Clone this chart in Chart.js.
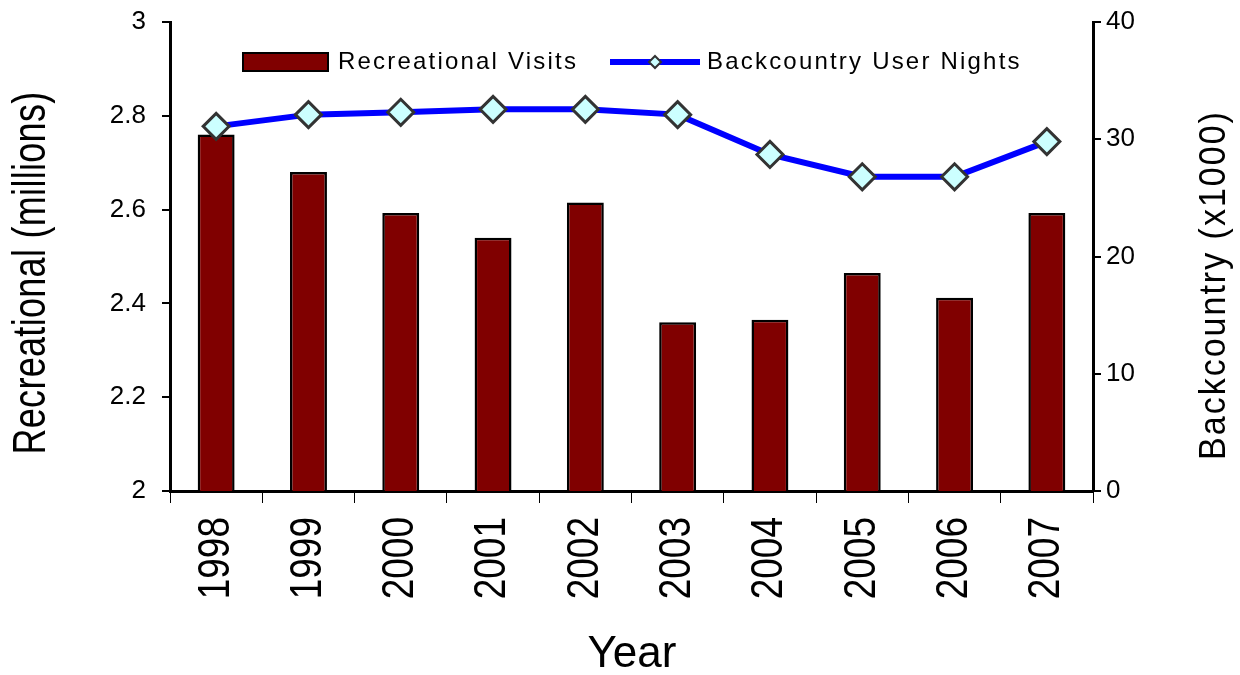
<!DOCTYPE html>
<html>
<head>
<meta charset="utf-8">
<script src="https://cdn.jsdelivr.net/npm/chart.js@4"></script>
<style>
  html, body { margin: 0; padding: 0; background: #fff; }
  #wrap { width: 1240px; height: 675px; }
</style>
</head>
<body>
<div id="wrap"><canvas id="chart" width="1240" height="675"></canvas></div>
<script>
// ── Data ──────────────────────────────────────────────────────
const years       = ['1998', '1999', '2000', '2001', '2002', '2003', '2004', '2005', '2006', '2007'];
const recVisits   = [2.76, 2.68, 2.593, 2.54, 2.615, 2.36, 2.365, 2.465, 2.412, 2.593];   // millions
const backcountry = [31.1, 32.1, 32.3, 32.55, 32.55, 32.1, 28.7, 26.8, 26.8, 29.8];       // x1000
const leftTicks   = [2, 2.2, 2.4, 2.6, 2.8, 3];
const rightTicks  = [0, 10, 20, 30, 40];

const FONT = "'Liberation Sans', Arial, sans-serif";

// ── Text helper: rotated, optionally stretched across the baseline ──
function drawText(ctx, text, x, y, opts) {
    ctx.save();
    ctx.translate(x, y);
    if (opts.rot) ctx.rotate(opts.rot);
    ctx.scale(1, opts.stretch || 1);
    ctx.font = opts.font;
    ctx.fillStyle = '#000';
    ctx.textAlign = opts.align || 'center';
    ctx.textBaseline = 'middle';
    ctx.letterSpacing = opts.spacing || '0px';
    ctx.fillText(text, 0, 0);
    ctx.restore();
}

// ── Legend, axis titles and year labels ───────────────────────
const decorations = {
    id: 'decorations',
    afterDraw(chart) {
        const ctx = chart.ctx;
        const xs = chart.scales.x;

        // year labels, reading bottom to top
        years.forEach((lab, i) => {
            drawText(ctx, lab, xs.getPixelForValue(i), 517, {
                rot: -Math.PI / 2, align: 'right', font: '37px ' + FONT, stretch: 1.22
            });
        });

        // axis titles
        drawText(ctx, 'Recreational (millions)', 32, 273, {
            rot: -Math.PI / 2, font: '36px ' + FONT, stretch: 1.3, spacing: '0.3px'
        });
        drawText(ctx, 'Backcountry (x1000)', 1215, 285, {
            rot: -Math.PI / 2, font: '34px ' + FONT, stretch: 1.07, spacing: '2px'
        });
        drawText(ctx, 'Year', 632, 655, { font: '44px ' + FONT });

        // legend
        const y = 62;
        ctx.save();
        ctx.fillStyle = '#800000';
        ctx.strokeStyle = '#000';
        ctx.lineWidth = 2;
        ctx.fillRect(243, 53, 85, 18);
        ctx.strokeRect(243, 53, 85, 18);
        ctx.strokeStyle = '#0000ff';
        ctx.lineWidth = 6;
        ctx.beginPath();
        ctx.moveTo(610, y);
        ctx.lineTo(700, y);
        ctx.stroke();
        ctx.fillStyle = '#ccffff';
        ctx.strokeStyle = '#333';
        ctx.lineWidth = 2;
        ctx.beginPath();
        ctx.moveTo(655, y - 6);
        ctx.lineTo(661, y);
        ctx.lineTo(655, y + 6);
        ctx.lineTo(649, y);
        ctx.closePath();
        ctx.fill();
        ctx.stroke();
        ctx.restore();
        drawText(ctx, 'Recreational Visits', 338, y, { align: 'left', font: '24px ' + FONT, spacing: '2.2px' });
        drawText(ctx, 'Backcountry User Nights', 707, y, { align: 'left', font: '24px ' + FONT, spacing: '2.2px' });
    }
};

new Chart(document.getElementById('chart').getContext('2d'), {
    data: {
        labels: years,
        datasets: [
            {
                type: 'line',
                label: 'Backcountry User Nights',
                data: backcountry,
                yAxisID: 'y2',
                borderColor: '#0000ff',
                borderWidth: 6,
                pointStyle: 'rectRot',
                pointRadius: 13,
                pointHoverRadius: 13,
                pointBackgroundColor: '#ccffff',
                pointBorderColor: '#333333',
                pointBorderWidth: 3,
                tension: 0,
                order: 0
            },
            {
                type: 'bar',
                label: 'Recreational Visits',
                data: recVisits,
                yAxisID: 'y',
                backgroundColor: '#800000',
                borderColor: '#000',
                borderWidth: 2.5,
                borderSkipped: false,
                barPercentage: 0.4,
                categoryPercentage: 1,
                order: 1
            }
        ]
    },
    options: {
        responsive: false,
        animation: false,
        layout: { padding: { top: 22, left: 0, right: 0, bottom: 0 } },
        plugins: {
            legend: { display: false },
            tooltip: { enabled: false }
        },
        scales: {
            x: {
                offset: true,
                grid: {
                    offset: true,
                    drawOnChartArea: false,
                    drawTicks: true,
                    tickLength: 12,
                    color: '#000',
                    lineWidth: 1
                },
                border: { color: '#000', width: 3 },
                ticks: { display: false },
                afterFit(s) { s.height = 184; }
            },
            y: {
                position: 'left',
                min: 2,
                max: 3,
                afterBuildTicks(s) { s.ticks = leftTicks.map(v => ({ value: v })); },
                grid: { drawOnChartArea: false, tickLength: 8, color: '#000', lineWidth: 2 },
                border: { color: '#000', width: 3 },
                ticks: {
                    color: '#000',
                    padding: 16,
                    font: { family: FONT, size: 26, lineHeight: 0.45 },
                    callback: v => String(v)
                },
                afterFit(s) { s.width = 170; }
            },
            y2: {
                position: 'right',
                min: 0,
                max: 40,
                afterBuildTicks(s) { s.ticks = rightTicks.map(v => ({ value: v })); },
                grid: { drawOnChartArea: false, tickLength: 8, color: '#000', lineWidth: 2 },
                border: { color: '#000', width: 3 },
                ticks: {
                    color: '#000',
                    padding: 5,
                    font: { family: FONT, size: 26, lineHeight: 0.45 }
                },
                afterFit(s) { s.width = 147; }
            }
        }
    },
    plugins: [decorations]
});
</script>
</body>
</html>
